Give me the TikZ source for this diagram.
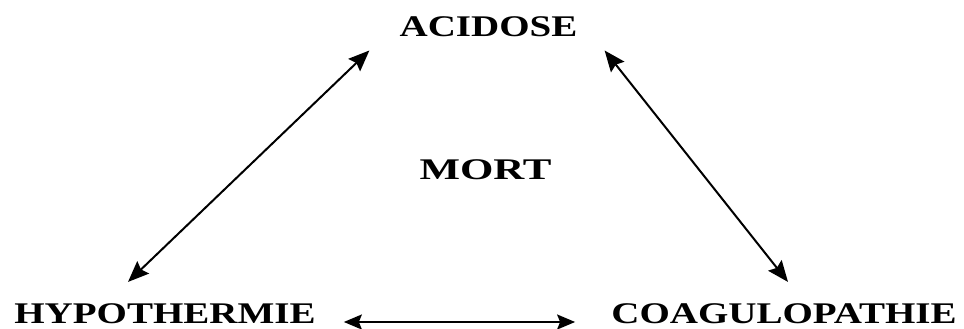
\documentclass[tikz,border=0pt]{standalone}
\usepackage{fontspec}
\setmainfont{Liberation Serif}
\usetikzlibrary{arrows.meta}

\begin{document}
\begin{tikzpicture}[x=1pt,y=1pt]
\tikzstyle{main}=[inner sep=0pt, anchor=base, font=\fontsize{30}{30}\selectfont\bfseries, xscale=1.3]
\tikzstyle{connect}=[{Stealth[length=21pt,width=17pt,inset=3pt]}-{Stealth[length=21pt,width=17pt,inset=3pt]}, line width=2pt]
\tikzstyle{flat}=[{Stealth[length=18pt,width=15pt,inset=3pt]}-{Stealth[length=18pt,width=15pt,inset=3pt]}, line width=2pt]
  \useasboundingbox (0,0) rectangle (964,329);
  \node[main] (acid) at (488.5,292) {ACIDOSE};
  \node[main, xscale=1.1] (mort) at (485.5,149) {MORT};
  \node[main] (hypo) at (165,5) {HYPOTHERMIE};
  \node[main] (coag) at (784,5) {COAGULOPATHIE};
  \draw[connect] ([shift={(-37,22)}]hypo.north) -- ([shift={(-30,-13)}]acid.south west);
  \draw[connect] ([shift={(27,-13)}]acid.south east) -- ([shift={(4,22)}]coag.north);
  \draw[flat] ([shift={(28,2)}]hypo.base east) -- ([shift={(-36,2)}]coag.base west);
\end{tikzpicture}
\end{document}
